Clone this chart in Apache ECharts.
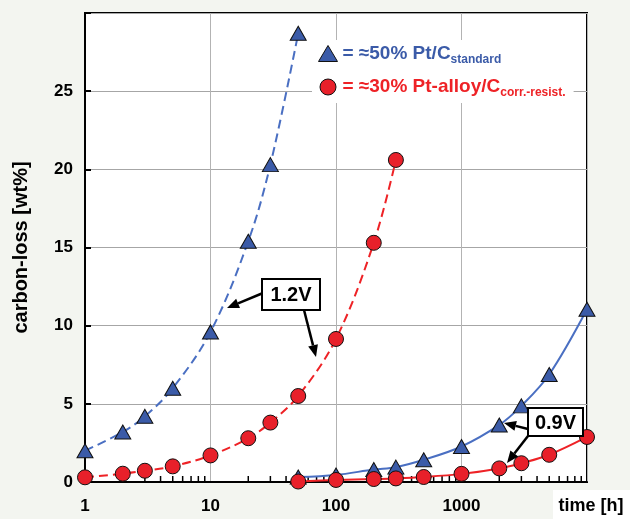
<!DOCTYPE html>
<html>
<head>
<meta charset="utf-8">
<script src="https://cdn.jsdelivr.net/npm/echarts@6/dist/echarts.min.js"></script>
<style>
html,body{margin:0;padding:0;background:#f3f5f0;}
#c{width:630px;height:519px;}
</style>
</head>
<body>
<div id="c"></div>
<script>
// ---- data ----
const ptcHighTime = [1, 2, 3, 5, 10, 20, 30, 50];
const ptcHighLoss = [2.0, 3.2, 4.2, 6.0, 9.6, 15.4, 20.3, 28.7];
const alloyHighTime = [1, 2, 3, 5, 10, 20, 30, 50, 100, 200, 300];
const alloyHighLoss = [0.3, 0.53, 0.72, 1.0, 1.7, 2.8, 3.8, 5.5, 9.15, 15.3, 20.6];
const ptcLowTime = [50, 100, 200, 300, 500, 1000, 2000, 3000, 5000, 10000];
const ptcLowLoss = [0.32, 0.45, 0.8, 0.95, 1.42, 2.27, 3.65, 4.87, 6.88, 11.05];
const alloyLowTime = [50, 100, 200, 300, 500, 1000, 2000, 3000, 5000, 10000];
const alloyLowLoss = [0.03, 0.13, 0.19, 0.23, 0.32, 0.52, 0.87, 1.2, 1.74, 2.88];
const xTickLabels = ['1', '10', '100', '1000'];
const yTickLabels = ['0', '5', '10', '15', '20', '25'];
const minorTicks = [2,3,4,5,6,7,8,9,20,30,40,50,60,70,80,90,200,300,400,500,600,700,800,900,2000,3000,4000,5000,6000,7000,8000,9000];
const seriesNames = ['50% Pt/C', '30% Pt-alloy'];

const FONT = 'Liberation Sans, Arial, sans-serif';
const BLUE_LINE = '#4a6fc2', BLUE_MARK = '#3b5ba8';
const RED_LINE = '#ee2226', RED_MARK = '#e8202a';

function pairs(xs, ys){ return xs.map((x,i)=>[x, ys[i]]); }

function mkSeries(name, xs, ys, dashed, blue){
  return {
    name: name, type: 'line', smooth: 0.35,
    data: pairs(xs, ys),
    symbol: blue ? 'triangle' : 'circle',
    symbolSize: blue ? [16, 14] : 15,
    lineStyle: {color: blue ? BLUE_LINE : RED_LINE, width: 2, type: dashed ? [9, 5] : 'solid'},
    itemStyle: {color: blue ? BLUE_MARK : RED_MARK, borderColor: '#111', borderWidth: 1},
    emphasis: {disabled: true},
    z: blue ? 3 : 4
  };
}

function arrow(x1, y1, x2, y2){
  const a = Math.atan2(y2 - y1, x2 - x1);
  const L = 12, W = 5;
  const bx = x2 - L*Math.cos(a), by = y2 - L*Math.sin(a);
  const px = -Math.sin(a)*W, py = Math.cos(a)*W;
  return [
    {type:'line', shape:{x1:x1, y1:y1, x2:bx, y2:by}, style:{stroke:'#000', lineWidth:2.5}, z:10},
    {type:'polygon', shape:{points:[[x2,y2],[bx+px,by+py],[bx-px,by-py]]}, style:{fill:'#000'}, z:10}
  ];
}

function box(x, y, w, h, label){
  return [
    {type:'rect', shape:{x:x, y:y, width:w, height:h}, style:{fill:'#fff', stroke:'#000', lineWidth:2}, z:11},
    {type:'text', x:x + w/2, y:y + h/2 + 1, style:{text:label, fill:'#000', font:'bold 20px ' + FONT, align:'center', verticalAlign:'middle'}, z:12}
  ];
}

const chart = echarts.init(document.getElementById('c'));
chart.setOption({
  backgroundColor: '#f3f5f0',
  animation: false,
  grid: {left: 85, right: 43, top: 13, bottom: 37, show: true, backgroundColor: '#fff', borderColor: '#000', borderWidth: 2},
  legend: {
    orient: 'vertical', left: 312, top: 40, padding: [4, 8, 4, 6],
    backgroundColor: '#fff', itemGap: 12, itemWidth: 19, itemHeight: 16,
    selectedMode: false,
    data: [
      {name: seriesNames[0], icon: 'triangle', itemStyle: {color: BLUE_MARK, borderColor: '#111', borderWidth: 1}},
      {name: seriesNames[1], icon: 'circle', itemStyle: {color: RED_MARK, borderColor: '#111', borderWidth: 1}}
    ],
    formatter: function(n){
      return n === seriesNames[0] ? '{b|= ≈50% Pt/C}{bs|standard}' : '{r|= ≈30% Pt-alloy/C}{rs|corr.-resist.}';
    },
    textStyle: {
      rich: {
        b: {color: '#3b5ba8', fontSize: 19, fontWeight: 'bold', fontFamily: FONT, lineHeight: 24, verticalAlign: 'middle'},
        bs: {color: '#3b5ba8', fontSize: 12, fontWeight: 'bold', fontFamily: FONT, lineHeight: 14, verticalAlign: 'bottom'},
        r: {color: '#ee2226', fontSize: 19, fontWeight: 'bold', fontFamily: FONT, lineHeight: 24, verticalAlign: 'middle'},
        rs: {color: '#ee2226', fontSize: 12, fontWeight: 'bold', fontFamily: FONT, lineHeight: 14, verticalAlign: 'bottom'}
      }
    }
  },
  xAxis: {
    type: 'log', logBase: 10, min: 1, max: 10000,
    axisLine: {show: true, lineStyle: {color: '#000', width: 2}},
    axisTick: {show: false},
    splitLine: {show: true, lineStyle: {color: '#b3b3b3', width: 1}},
    axisLabel: {
      margin: 16, color: '#000', fontSize: 17, fontWeight: 'bold', fontFamily: FONT,
      formatter: function(v){ const s = String(Math.round(v)); return xTickLabels.indexOf(s) >= 0 ? s : ''; }
    }
  },
  yAxis: {
    type: 'value', min: 0, max: 30, interval: 5,
    name: 'carbon-loss [wt%]', nameLocation: 'middle', nameGap: 54, nameRotate: 90,
    nameTextStyle: {color: '#000', fontSize: 20, fontWeight: 'bold', fontFamily: FONT},
    axisLine: {show: true, lineStyle: {color: '#000', width: 2}},
    axisTick: {show: true, inside: true, length: 6, lineStyle: {color: '#000', width: 2}},
    splitLine: {show: true, lineStyle: {color: '#a6a6a6', width: 1}},
    axisLabel: {
      margin: 12, color: '#000', fontSize: 17, fontWeight: 'bold', fontFamily: FONT,
      formatter: function(v){ const s = String(v); return yTickLabels.indexOf(s) >= 0 ? s : ''; }
    }
  },
  series: [
    {
      type: 'custom', silent: true, z: 2, clip: false,
      data: minorTicks.map(v => [v, 0]),
      renderItem: function(params, api){
        const p = api.coord([api.value(0), 0]);
        return {type: 'line', shape: {x1: p[0], y1: p[1] - 1, x2: p[0], y2: p[1] - 6}, style: {stroke: '#000', lineWidth: 1.5}};
      }
    },
    mkSeries(seriesNames[0], ptcHighTime, ptcHighLoss, true, true),
    mkSeries(seriesNames[1], alloyHighTime, alloyHighLoss, true, false),
    mkSeries(seriesNames[0], ptcLowTime, ptcLowLoss, false, true),
    mkSeries(seriesNames[1], alloyLowTime, alloyLowLoss, false, false)
  ],
  graphic: [
    {type: 'rect', shape: {x: 553, y: 490, width: 77, height: 29}, style: {fill: '#fff'}, z: 5},
    {type: 'text', x: 591, y: 506, style: {text: 'time [h]', fill: '#000', font: 'bold 18px ' + FONT, align: 'center', verticalAlign: 'middle'}, z: 6},
    ...arrow(263, 293, 227, 308),
    ...arrow(304, 310, 316, 357),
    ...box(262, 279, 58, 31, '1.2V'),
    ...arrow(528, 429, 504, 423),
    ...arrow(528, 436, 507, 463),
    ...box(528, 408, 55, 28, '0.9V')
  ]
});
</script>
</body>
</html>
